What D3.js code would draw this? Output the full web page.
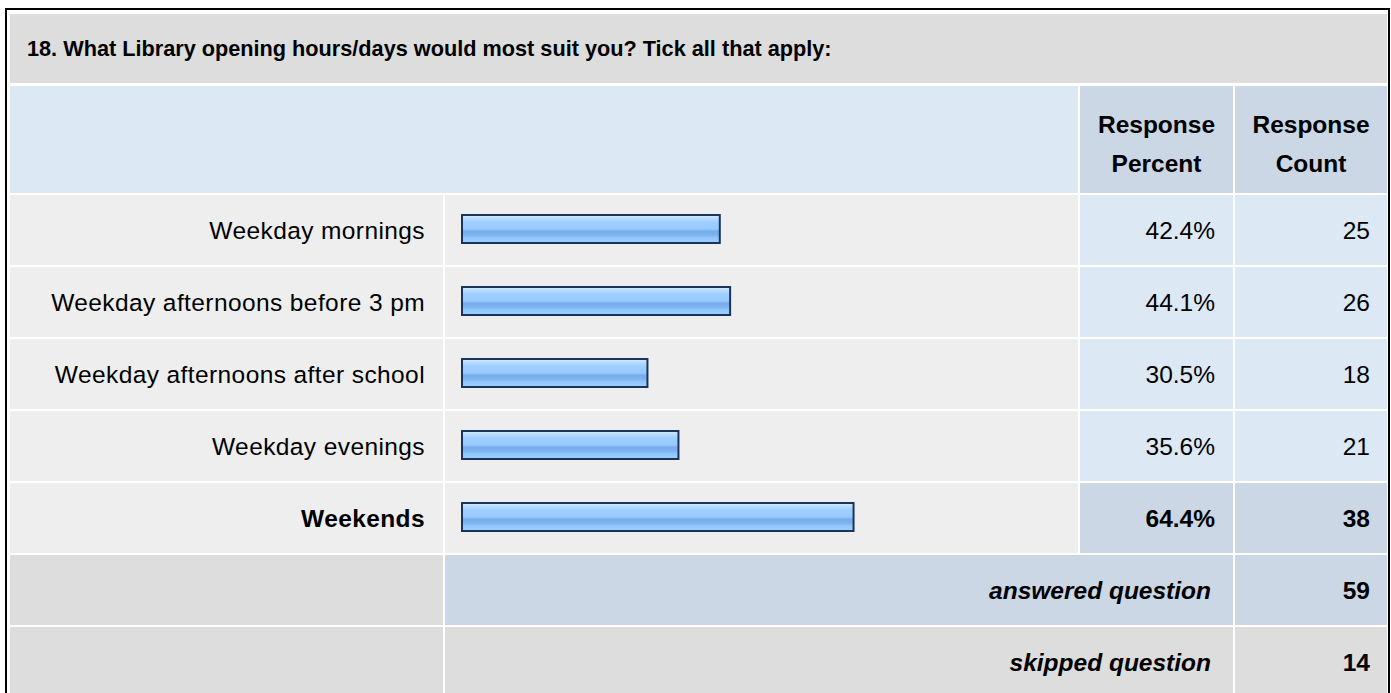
<!DOCTYPE html>
<html>
<head>
<meta charset="utf-8">
<script src="https://cdn.jsdelivr.net/npm/d3@7"></script>
<style>
  body { margin: 0; background: #fff; }
  svg text { font-family: "Liberation Sans", Arial, sans-serif; fill: #000; }
</style>
</head>
<body>
<div id="chart"></div>
<script>
var title = '18. What Library opening hours/days would most suit you? Tick all that apply:';
var categories = ['Weekday mornings', 'Weekday afternoons before 3 pm', 'Weekday afternoons after school', 'Weekday evenings', 'Weekends'];
var percents = [42.4, 44.1, 30.5, 35.6, 64.4];
var counts = [25, 26, 18, 21, 38];
var headerLabels = [['Response', 'Percent'], ['Response', 'Count']];
var footerLabels = ['answered question', 'skipped question'];
var footerValues = [59, 14];

var width = 1391;
var height = 693;
var fontSize = 24.5;

// column edges
var colLabel = [10, 443];
var colBar = [445, 1078];
var colPct = [1080, 1233];
var colCount = [1235, 1387];

var maxPct = d3.max(percents);

var svg = d3.select('#chart')
    .append('svg')
    .attr('width', width)
    .attr('height', height);

var grad = svg.append('defs').append('linearGradient')
    .attr('id', 'barGrad')
    .attr('x1', 0).attr('y1', 0).attr('x2', 0).attr('y2', 1);
[['0%', '#d4eaff'], ['12%', '#b8dcff'], ['25%', '#9fcfff'], ['50%', '#96c9fd'],
 ['58%', '#78adea'], ['72%', '#7cb3f0'], ['80%', '#90c5fc'], ['100%', '#9dcfff']]
  .forEach(function(s) {
    grad.append('stop').attr('offset', s[0]).attr('stop-color', s[1]);
  });

// outer frame
svg.append('rect')
    .attr('x', 6).attr('y', 9)
    .attr('width', 1383).attr('height', 700)
    .attr('fill', 'none')
    .attr('stroke', '#000')
    .attr('stroke-width', 2);

// title row
svg.append('rect')
    .attr('x', colLabel[0]).attr('y', 14)
    .attr('width', colCount[1] - colLabel[0]).attr('height', 69)
    .attr('fill', '#dddddd');
svg.append('text')
    .attr('x', 27).attr('y', 48.5)
    .attr('dy', '0.35em')
    .style('font-size', '21.7px')
    .style('font-weight', 'bold')
    .text(title);

// header row
svg.append('rect')
    .attr('x', colLabel[0]).attr('y', 86)
    .attr('width', colBar[1] - colLabel[0]).attr('height', 107)
    .attr('fill', '#dde8f5');
[colPct, colCount].forEach(function(c, i) {
  svg.append('rect')
      .attr('x', c[0]).attr('y', 86)
      .attr('width', c[1] - c[0]).attr('height', 107)
      .attr('fill', '#cbd7e5');
  headerLabels[i].forEach(function(t, j) {
    svg.append('text')
        .attr('x', (c[0] + c[1]) / 2)
        .attr('y', 133 + j * 39)
        .attr('text-anchor', 'middle')
        .style('font-size', fontSize + 'px')
        .style('font-weight', 'bold')
        .text(t);
  });
});

// rows
var y = d3.scaleBand()
    .domain(categories)
    .range([195, 195 + categories.length * 72]);

var x = d3.scaleLinear()
    .domain([0, 100])
    .range([462, 1070]);

var rows = svg.selectAll('.row')
    .data(categories)
    .enter()
    .append('g')
    .attr('class', 'row')
    .attr('transform', function(d) { return 'translate(0,' + y(d) + ')'; });

var rowH = y.bandwidth() - 2;

rows.append('rect')
    .attr('x', colLabel[0]).attr('width', colLabel[1] - colLabel[0])
    .attr('height', rowH).attr('fill', '#eeeeee');
rows.append('rect')
    .attr('x', colBar[0]).attr('width', colBar[1] - colBar[0])
    .attr('height', rowH).attr('fill', '#eeeeee');
rows.append('rect')
    .attr('x', colPct[0]).attr('width', colPct[1] - colPct[0])
    .attr('height', rowH)
    .attr('fill', function(d, i) { return percents[i] === maxPct ? '#cbd7e5' : '#dde8f5'; });
rows.append('rect')
    .attr('x', colCount[0]).attr('width', colCount[1] - colCount[0])
    .attr('height', rowH)
    .attr('fill', function(d, i) { return percents[i] === maxPct ? '#cbd7e5' : '#dde8f5'; });

// bars
rows.append('rect')
    .attr('x', x(0))
    .attr('y', 20)
    .attr('width', function(d, i) { return x(percents[i]) - x(0); })
    .attr('height', 28)
    .attr('fill', 'url(#barGrad)')
    .attr('stroke', '#1b355a')
    .attr('stroke-width', 2);

function bold(d, i) { return percents[i] === maxPct ? 'bold' : 'normal'; }

rows.append('text')
    .attr('x', 425)
    .attr('y', rowH / 2)
    .attr('dy', '0.35em')
    .attr('text-anchor', 'end')
    .style('font-size', fontSize + 'px')
    .style('letter-spacing', '0.4px')
    .style('font-weight', bold)
    .text(function(d) { return d; });

rows.append('text')
    .attr('x', 1215)
    .attr('y', rowH / 2)
    .attr('dy', '0.35em')
    .attr('text-anchor', 'end')
    .style('font-size', fontSize + 'px')
    .style('font-weight', bold)
    .text(function(d, i) { return percents[i].toFixed(1) + '%'; });

rows.append('text')
    .attr('x', 1370)
    .attr('y', rowH / 2)
    .attr('dy', '0.35em')
    .attr('text-anchor', 'end')
    .style('font-size', fontSize + 'px')
    .style('font-weight', bold)
    .text(function(d, i) { return counts[i]; });

// footer rows
var footTop = 195 + categories.length * 72;
footerLabels.forEach(function(lab, i) {
  var fy = footTop + i * 72;
  var fill = i === 0 ? '#cbd7e5' : '#dddddd';
  svg.append('rect')
      .attr('x', colLabel[0]).attr('y', fy)
      .attr('width', colLabel[1] - colLabel[0]).attr('height', rowH)
      .attr('fill', '#dddddd');
  svg.append('rect')
      .attr('x', colBar[0]).attr('y', fy)
      .attr('width', colPct[1] - colBar[0]).attr('height', rowH)
      .attr('fill', fill);
  svg.append('rect')
      .attr('x', colCount[0]).attr('y', fy)
      .attr('width', colCount[1] - colCount[0]).attr('height', rowH)
      .attr('fill', fill);
  svg.append('text')
      .attr('x', 1211)
      .attr('y', fy + rowH / 2)
      .attr('dy', '0.35em')
      .attr('text-anchor', 'end')
      .style('font-size', fontSize + 'px')
      .style('font-weight', 'bold')
      .style('font-style', 'italic')
      .text(lab);
  svg.append('text')
      .attr('x', 1370)
      .attr('y', fy + rowH / 2)
      .attr('dy', '0.35em')
      .attr('text-anchor', 'end')
      .style('font-size', fontSize + 'px')
      .style('font-weight', 'bold')
      .text(footerValues[i]);
});
</script>
</body>
</html>
